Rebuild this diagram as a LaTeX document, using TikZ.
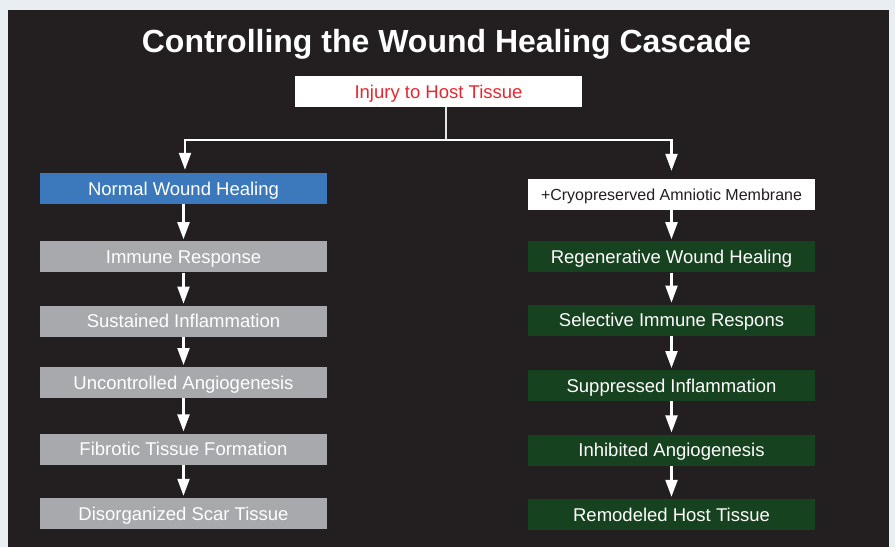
\documentclass[tikz,border=0pt]{standalone}
\usepackage{fontspec}
\setmainfont{Liberation Sans}
\usetikzlibrary{arrows.meta,positioning}

\definecolor{pagebg}{HTML}{E8EEF2}
\definecolor{panelbg}{HTML}{231F20}
\definecolor{normalblue}{HTML}{3B78BC}
\definecolor{stepgray}{HTML}{A7A9AC}
\definecolor{regengreen}{HTML}{16421F}
\definecolor{injuryred}{HTML}{E8262F}

\begin{document}
\begin{tikzpicture}[x=1pt,y=-1pt,
		box/.style={minimum width=287pt,minimum height=31pt,inner sep=0pt,
			text height=13.3pt,text depth=0pt,text=white,
			font=\fontsize{18.5}{20}\selectfont},
		normal box/.style={box,fill=normalblue},
		gray box/.style={box,fill=stepgray},
		green box/.style={box,fill=regengreen},
		white box/.style={box,fill=white},
		link/.style={draw=white!90!black,line width=2.2pt},
		flow/.style={white,line width=2.2pt,-{Triangle[width=12pt,length=17pt,fill=white]},shorten >=2pt}]
		\useasboundingbox (0,0) rectangle (895,547);
		\fill[pagebg] (0,0) rectangle (895,547);
		\fill[panelbg] (8,10) rectangle (889,547);

		\node[font=\bfseries\fontsize{32}{36}\selectfont,text=white,anchor=base] (title) at (446.5,52) {Controlling the Wound Healing Cascade};
		\node[white box,text=injuryred] (injury) at (438.5,91.5) {Injury to Host Tissue};

		% normal healing branch
		\node[normal box] (normal) at (183.5,188.5) {Normal Wound Healing};
		\node[gray box] (immune) [below=37pt of normal] {Immune Response};
		\node[gray box] (sustained) [below=33pt of immune] {Sustained Inflammation};
		\node[gray box] (uncontrolled) [below=30pt of sustained] {Uncontrolled Angiogenesis};
		\node[gray box] (fibrotic) [below=35pt of uncontrolled] {Fibrotic Tissue Formation};
		\node[gray box] (scar) [below=33pt of fibrotic] {Disorganized Scar Tissue};

		% amniotic membrane branch
		\node[white box,text=panelbg,text height=11.5pt,font=\fontsize{16}{18}\selectfont] (cryo) at (671.5,194.5) {+Cryopreserved Amniotic Membrane};
		\node[green box] (regen) [below=31pt of cryo] {Regenerative Wound Healing};
		\node[green box] (selective) [below=32pt of regen] {Selective Immune Respons};
		\node[green box] (suppressed) [below=34pt of selective] {Suppressed Inflammation};
		\node[green box] (inhibited) [below=33pt of suppressed] {Inhibited Angiogenesis};
		\node[green box] (remodeled) [below=33pt of inhibited] {Remodeled Host Tissue};

		\draw[link] ([xshift=7.5pt]injury.south) -- ++(0,33) coordinate (split);
		\draw[flow,shorten >=3pt] (split) -| ([xshift=1.5pt]normal.north);
		\draw[flow,shorten >=8pt] (split) -| (cryo.north);
		\path[flow]
		(normal) edge (immune)
		(immune) edge (sustained)
		(sustained) edge (uncontrolled)
		(uncontrolled) edge (fibrotic)
		(fibrotic) edge (scar)
		(cryo) edge (regen)
		(regen) edge (selective)
		(selective) edge (suppressed)
		(suppressed) edge (inhibited)
		(inhibited) edge (remodeled);
\end{tikzpicture}
\end{document}
